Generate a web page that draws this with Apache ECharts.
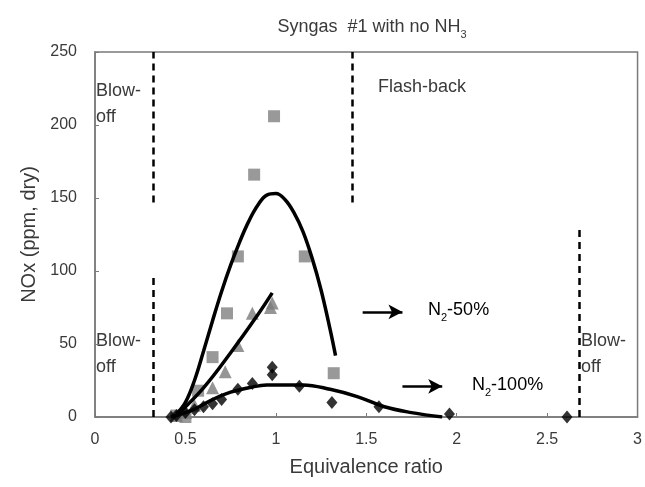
<!DOCTYPE html>
<html>
<head>
<meta charset="utf-8">
<script src="https://cdn.jsdelivr.net/npm/echarts@6/dist/echarts.min.js"></script>
<style>
  html, body { margin: 0; padding: 0; background: #fff; }
  #chartMain { width: 645px; height: 487px; }
</style>
</head>
<body>
<div id="chartMain"></div>
<script>
var squarePts = [[0.45, 1], [0.5, 0], [0.57, 18], [0.65, 41], [0.73, 71], [0.79, 110], [0.88, 166], [0.99, 206], [1.16, 110], [1.32, 30]];
var trianglePts = [[0.45, 1], [0.5, 3], [0.55, 8], [0.65, 20], [0.72, 31], [0.79, 49], [0.87, 71], [0.97, 75], [0.98, 78]];
var diamondPts = [[0.42, 0], [0.45, 1], [0.5, 3], [0.55, 5], [0.6, 7], [0.65, 9], [0.7, 12], [0.79, 19], [0.87, 23], [0.98, 29], [0.98, 34], [1.13, 21], [1.31, 10], [1.57, 7], [1.96, 2], [2.61, 0]];

// 拟合曲线
var fitSquare = [[0.45, 2], [0.5, 10], [0.55, 25], [0.6, 45], [0.65, 66], [0.7, 86], [0.75, 104], [0.8, 120], [0.85, 134], [0.9, 145], [0.95, 152], [1.0, 153], [1.05, 149], [1.1, 140], [1.15, 127], [1.2, 109], [1.25, 87], [1.3, 60], [1.33, 42]];
var fitTriangle = [[0.45, 1], [0.6, 20], [0.75, 44], [0.9, 70], [0.98, 85]];
var fitDiamond = [[0.42, 0], [0.5, 3], [0.56, 6], [0.65, 12], [0.75, 17], [0.85, 20], [0.95, 22], [1.05, 22], [1.15, 22], [1.3, 19], [1.45, 14], [1.6, 7], [1.75, 3], [1.92, 0]];

// 边界虚线 [x, yFrom, yTo]
var boundaryLines = [[0.32, 147, 250], [0.32, 0, 96], [1.42, 147, 250], [2.68, 0, 129]];
// 箭头 [xFrom, xTo, y]
var arrowLines = [[1.48, 1.70, 72], [1.70, 1.92, 21]];

var xTicks = [0, 0.5, 1, 1.5, 2, 2.5, 3];
var yTicks = [0, 50, 100, 150, 200, 250];

var fontName = '"Liberation Sans", Arial, sans-serif';
var txtColor = '#3a3a3a';

var myChart = echarts.init(document.getElementById('chartMain'));

var dashedData = [];
for (var i = 0; i < boundaryLines.length; i++) {
    var b = boundaryLines[i];
    dashedData.push([{ coord: [b[0], b[1]] }, { coord: [b[0], b[2]] }]);
}
var arrowData = [];
for (var i = 0; i < arrowLines.length; i++) {
    var a = arrowLines[i];
    arrowData.push([{ coord: [a[0], a[2]] }, { coord: [a[1], a[2]] }]);
}

function blowText(left, top) {
    return {
        type: 'text', left: left, top: top,
        style: { text: 'Blow-\noff', font: '18px ' + fontName, fill: txtColor, lineHeight: 26 }
    };
}

var subRich = {
    a: { fontSize: 18, fontFamily: fontName, color: txtColor, verticalAlign: 'bottom', lineHeight: 22 },
    s: { fontSize: 11, fontFamily: fontName, color: txtColor, verticalAlign: 'bottom', lineHeight: 22, padding: [0, 0, -4, 0] }
};

var option = {
    animation: false,
    backgroundColor: '#fff',
    title: {
        text: '{a|Syngas  #1 with no NH}{s|3}',
        left: 367, top: 9, textAlign: 'center',
        textStyle: {
            fontWeight: 'normal',
            rich: {
                a: { fontSize: 18, fontWeight: 'normal', fontFamily: fontName, color: txtColor, verticalAlign: 'bottom', lineHeight: 22 },
                s: { fontSize: 11, fontWeight: 'normal', fontFamily: fontName, color: txtColor, verticalAlign: 'bottom', lineHeight: 22, padding: [0, 0, -4, 0] }
            }
        }
    },
    grid: { left: 95, right: 6, top: 52, bottom: 70, show: true, borderColor: '#7a7a7a', borderWidth: 1.5 },
    xAxis: {
        type: 'value', min: 0, max: 3, interval: 0.5,
        name: 'Equivalence ratio', nameLocation: 'middle', nameGap: 40,
        nameTextStyle: { fontSize: 20, fontFamily: fontName, color: txtColor },
        axisLine: { lineStyle: { color: '#7a7a7a', width: 1.5 } },
        axisTick: { inside: true, length: 4, lineStyle: { color: '#7a7a7a' } },
        axisLabel: { fontSize: 16, fontFamily: fontName, color: txtColor, margin: 15,
            formatter: function (v) { return xTicks.indexOf(v) >= 0 ? String(v) : ''; } },
        splitLine: { show: false }
    },
    yAxis: {
        type: 'value', min: 0, max: 250, interval: 50,
        name: 'NOx (ppm, dry)', nameLocation: 'middle', nameGap: 48,
        nameTextStyle: { fontSize: 20, fontFamily: fontName, color: txtColor },
        axisLine: { show: true, lineStyle: { color: '#7a7a7a', width: 1.5 } },
        axisTick: { show: true, inside: true, length: 4, lineStyle: { color: '#7a7a7a' } },
        axisLabel: { fontSize: 16, fontFamily: fontName, color: txtColor, margin: 18,
            formatter: function (v) { return yTicks.indexOf(v) >= 0 ? String(v) : ''; } },
        splitLine: { show: false }
    },
    series: [
        {
            type: 'scatter', name: 'square', data: squarePts, symbol: 'rect', symbolSize: 12,
            itemStyle: { color: '#808080' }, z: 2
        },
        {
            type: 'scatter', name: 'triangle', data: trianglePts, symbol: 'triangle', symbolSize: 13,
            itemStyle: { color: '#7b7b7b' }, z: 2
        },
        {
            type: 'scatter', name: 'diamond', data: diamondPts, symbol: 'diamond', symbolSize: [11, 13],
            itemStyle: { color: '#000' }, z: 3
        },
        {
            type: 'line', data: fitSquare, smooth: 0.4, showSymbol: false,
            lineStyle: { color: '#000', width: 3.5 }, z: 4
        },
        {
            type: 'line', data: fitTriangle, smooth: 0.4, showSymbol: false,
            lineStyle: { color: '#000', width: 3.5 }, z: 4
        },
        {
            type: 'line', data: fitDiamond, smooth: 0.4, showSymbol: false,
            lineStyle: { color: '#000', width: 3.5 }, z: 4,
            markLine: {
                silent: true, symbol: ['none', 'none'], label: { show: false },
                lineStyle: { color: '#000', width: 2.5, type: [7, 5] },
                data: dashedData
            }
        },
        {
            type: 'line', data: [], z: 4,
            markLine: {
                silent: true, symbol: ['none', 'arrow'], symbolSize: [11, 14], label: { show: false },
                lineStyle: { color: '#000', width: 2.5, type: 'solid' },
                data: arrowData
            }
        }
    ],
    graphic: [
        blowText(96, 78),
        blowText(96, 328),
        blowText(581, 328),
        { type: 'text', left: 378, top: 78, style: { text: 'Flash-back', font: '18px ' + fontName, fill: txtColor } },
        { type: 'text', left: 428, top: 301, style: { text: '{a|N}{s|2}{a|-50%}', rich: subRich } },
        { type: 'text', left: 472, top: 376, style: { text: '{a|N}{s|2}{a|-100%}', rich: subRich } }
    ]
};

myChart.setOption(option);
</script>
</body>
</html>
